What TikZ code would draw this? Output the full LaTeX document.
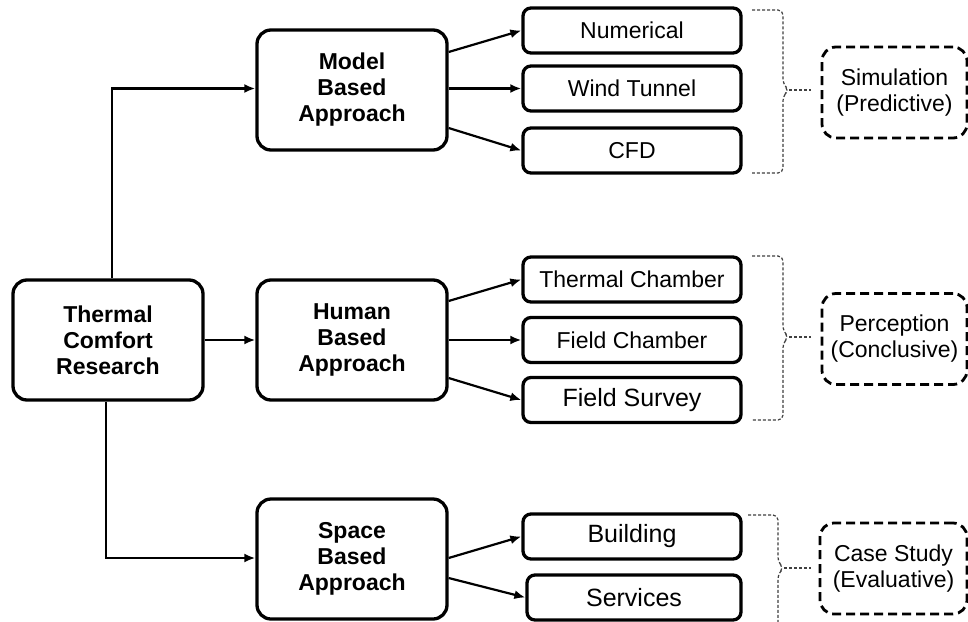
\documentclass[tikz,border=0pt]{standalone}
\usepackage{fontspec}
\setmainfont{Liberation Sans}
\usetikzlibrary{arrows.meta,calc}
\newcommand\mybrace[5]{% x-left, x-vert, top, bottom, mid
  \draw[br] (#1,#3) -- (#2,#3) -- (#2,#5-6) -- (#2+6,#5) -- (#2,#5+6) -- (#2,#4) -- (#1,#4);
}
\begin{document}
\begin{tikzpicture}[x=1pt,y=-1pt,
 big/.style={draw,line width=3.3pt,rounded corners=14pt,minimum width=190pt,minimum height=120pt,align=center,font=\fontsize{23}{26}\selectfont\bfseries,inner sep=0pt},
 item/.style={draw,line width=3.3pt,rounded corners=8pt,minimum width=218pt,minimum height=45pt,font=\fontsize{23}{26}\selectfont,inner sep=0pt},
 cat/.style={draw,line width=2.8pt,dash pattern=on 9pt off 5pt,rounded corners=14pt,minimum width=145pt,minimum height=91pt,align=center,font=\fontsize{23}{26}\selectfont,inner sep=0pt},
 arr/.style={line width=2.2pt,-{Latex[length=11pt,width=9pt]}},
 br/.style={draw=black!75,line width=1.2pt,dash pattern=on 3pt off 2pt,rounded corners=5pt},
 tick/.style={draw=black!75,line width=1.2pt,dash pattern=on 3pt off 2pt}]
\useasboundingbox[fill=white] (0,0) rectangle (968,621);

% main nodes
\node[big] (TCR) at (108,340) {Thermal\\Comfort\\Research};
\node[big] (M) at (352,90) {Model\\Based\\Approach};
\node[big] (H) at (352,340) {Human\\Based\\Approach};
\node[big] (S) at (352,559) {Space\\Based\\Approach};

% items
\node[item] (Num) at (632,30.5) {Numerical};
\node[item] (WT) at (632,88.5) {Wind Tunnel};
\node[item] (CFD) at (632,150.5) {CFD};
\node[item] (TC) at (632,279.5) {Thermal Chamber};
\node[item] (FC) at (632,340) {Field Chamber};
\node[item,font=\fontsize{25}{26}\selectfont] (FS) at (632,400) {Field Survey};
\node[item,font=\fontsize{25}{26}\selectfont] (B) at (632,536.5) {Building};
\node[item,minimum width=214pt,font=\fontsize{25}{26}\selectfont] (Sv) at (634,597.5) {Services};

% categories
\node[cat] (Sim) at (894.5,92.5) {Simulation\\(Predictive)};
\node[cat] (Per) at (894.5,339) {Perception\\(Conclusive)};
\node[cat,minimum width=147pt] (CS) at (893.5,568.5) {Case Study\\(Evaluative)};

% connectors from TCR
\draw[arr] ([xshift=4pt]TCR.north) |- (M.west |- WT.west);
\draw[arr] (TCR.east) -- (H.west);
\draw[arr] ([xshift=-2pt]TCR.south) |- ([yshift=1pt]S.west);

% model
\draw[arr] ([yshift=38pt]M.east) -- (Num.west);
\draw[arr] (M.east |- WT.west) -- (WT.west);
\draw[arr] ([yshift=-38pt]M.east) -- (CFD.west);
% human
\draw[arr] ([yshift=39pt]H.east) -- (TC.west);
\draw[arr] (H.east) -- (FC.west);
\draw[arr] ([yshift=-38pt]H.east) -- (FS.west);
% space
\draw[arr] ([yshift=1pt]S.east) -- (B.west);
\draw[arr] ([yshift=-19pt]S.east) -- (Sv.west);

% braces
\mybrace{752}{783}{10}{173}{90}
\coordinate (t1) at (789,90);
\draw[tick] (t1) -- ([xshift=-10pt]Sim.west |- t1);
\mybrace{752}{783}{256}{420}{337}
\coordinate (t2) at (789,337);
\draw[tick] (t2) -- ([xshift=-10pt]Per.west |- t2);
\mybrace{748}{778}{515}{628}{568}
\coordinate (t3) at (784,568);
\draw[tick] (t3) -- ([xshift=-8pt]CS.west |- t3);
\end{tikzpicture}
\end{document}
